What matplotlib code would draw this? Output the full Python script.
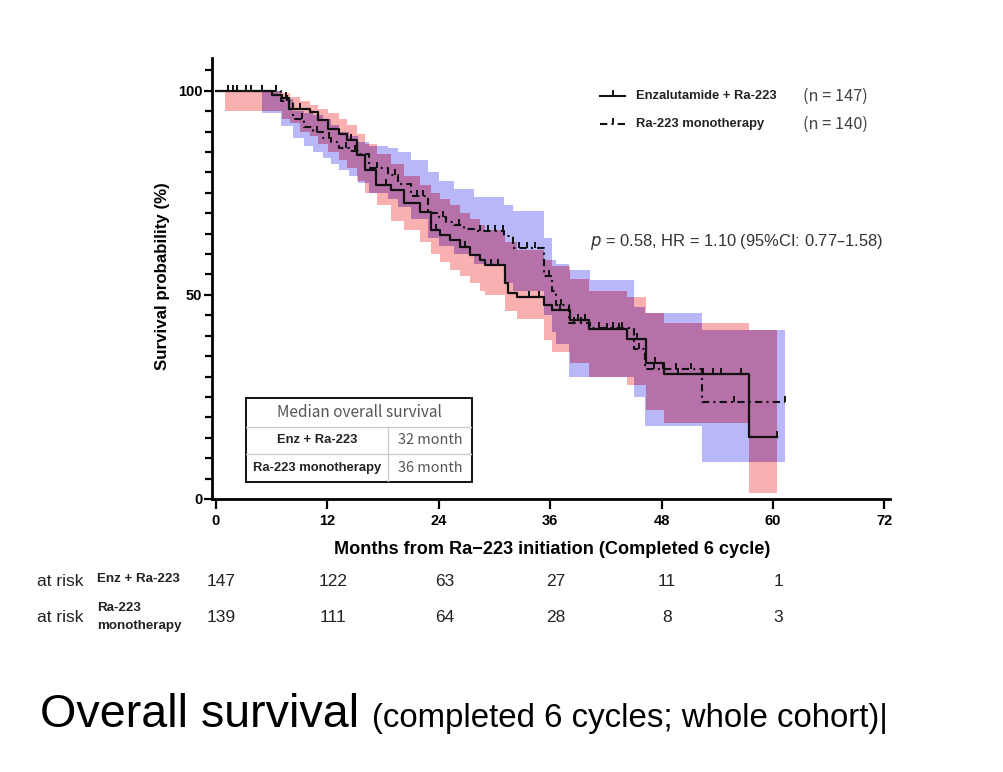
import numpy as np
import matplotlib.pyplot as plt
import matplotlib.transforms as mtransforms
from matplotlib.lines import Line2D
from matplotlib.path import Path
from matplotlib.patches import Rectangle

# ---- Kaplan-Meier curves (months, survival %) ----
enz_t = [0, 6.0, 7.1, 7.9, 10.1, 11.0, 12.1, 13.2, 14.1, 15.2, 16.1, 17.2, 18.9,
         20.2, 22.0, 23.2, 24.1, 25.2, 26.3, 27.4, 28.4, 29.0, 31.1, 31.4, 32.4,
         35.3, 36.2, 38.1, 40.2, 44.3, 46.3, 48.3, 57.4]
enz_s = [100, 98.9, 98.1, 95.6, 94.8, 92.8, 90.7, 89.5, 87.9, 84.2, 80.5, 77.0, 75.7,
         72.5, 70.4, 65.9, 64.7, 63.5, 61.8, 59.8, 58.6, 57.4, 52.9, 50.4, 49.4,
         47.5, 46.3, 43.9, 41.6, 39.2, 33.3, 30.5, 15.3]
enz_end = 60.4
enz_cens = [1.3, 2.3, 3.2, 5.0, 7.5, 9.0, 14.5, 18.3, 23.7, 26.8, 29.6, 30.4, 33.7,
            34.8, 37.1, 39.0, 39.7, 42.1, 43.4, 45.4, 47.3, 49.8, 52.5, 53.5, 54.4,
            56.5, 60.4]

mono_t = [0, 7.0, 8.3, 9.5, 10.5, 11.5, 12.4, 13.3, 14.3, 15.3, 16.5, 18.5, 19.6,
          21.0, 22.8, 24.0, 24.8, 25.6, 26.7, 27.8, 31.0, 32.0, 35.3, 36.2, 36.6,
          38.0, 40.3, 45.0, 46.2, 52.3]
mono_s = [100, 97.5, 93.0, 91.0, 90.0, 88.5, 87.5, 86.0, 85.3, 84.5, 81.0, 79.3, 77.2,
          74.3, 70.0, 69.0, 67.8, 67.0, 66.2, 65.6, 64.5, 61.5, 54.5, 51.0, 47.5,
          43.0, 42.0, 36.8, 31.8, 23.8]
mono_end = 61.3
mono_cens = [1.8, 3.8, 6.5, 7.6, 9.3, 10.9, 12.2, 14.0, 15.0, 17.3, 19.3, 21.6, 22.3,
             24.5, 26.2, 28.4, 29.3, 30.1, 30.9, 32.6, 33.5, 34.4, 35.9, 37.2, 38.6,
             39.3, 41.3, 42.8, 43.7, 45.6, 47.2, 48.2, 49.6, 51.2, 55.8, 61.3]

# ---- 95% confidence bands (start of each step, lower, upper) ----
enz_ci_t = [1.0, 5.0, 7.1, 8.0, 9.0, 10.1, 11.0, 12.1, 13.2, 14.1, 15.2, 16.1, 17.3,
            18.9, 20.2, 22.0, 23.2, 24.1, 25.2, 26.3, 27.4, 28.4, 29.0, 31.1, 32.4,
            35.3, 36.2, 38.1, 40.2, 44.3, 46.3, 48.3, 57.4]
enz_ci_lo = [95, 95, 93, 92, 90, 89, 87, 85, 83, 81, 78, 75, 72, 68, 66, 63, 60, 58,
             56, 54.5, 53, 51, 50, 46, 44, 39, 36, 33.3, 30, 28, 21.8, 18.6, 1.5]
enz_ci_hi = [100, 100, 99.5, 98.5, 97.5, 96.5, 95.5, 94.5, 93, 91.5, 89.5, 87, 84.5,
             82, 79, 77, 75, 73.5, 72, 70, 68.5, 67, 66, 63, 61, 58.5, 57, 54, 51,
             49.5, 45.6, 43, 41.4]
enz_ci_end = 60.4

mono_ci_t = [5.0, 7.0, 8.3, 9.5, 10.5, 11.5, 12.4, 13.3, 14.3, 15.3, 16.5, 18.5, 19.6,
             21.0, 22.8, 24.0, 25.6, 27.8, 31.0, 32.0, 35.3, 36.2, 36.6, 38.0, 40.3,
             45.0, 46.2, 52.3]
mono_ci_lo = [94.5, 91.3, 88.5, 86.5, 85, 83.5, 82, 80.5, 79, 77.5, 75, 73.5, 71.5,
              68.5, 64, 62, 60, 57.5, 53, 51, 45, 41, 38, 30, 30, 25, 18, 9]
mono_ci_hi = [100, 98, 95, 94.5, 94, 93, 91.5, 90, 89, 87.5, 86.5, 86, 85, 83, 80,
              78, 76, 74, 72, 70.5, 64, 58.6, 57.5, 56, 53.6, 47, 45.6, 41.4]
mono_ci_end = 61.3

# ---- number at risk ----
risk_t = [0, 12, 24, 36, 48, 60]
risk_enz = [147, 122, 63, 27, 11, 1]
risk_mono = [139, 111, 64, 28, 8, 3]

PINK = "#F8B0B0"
BLUE = "#B8B8F8"
PURPLE = "#B571A8"
INK = "#111111"
DASH = (0, (3.5, 2, 1, 2))

ARIAL = ["Liberation Sans", "DejaVu Sans"]
JP = ["Noto Sans CJK JP", "DejaVu Sans"]
plt.rcParams["font.family"] = ARIAL

W, H = 1004, 772


def fx(px):
    return px / W


def fy(py):
    return 1 - py / H


def step_values(ts, vals, end, grid):
    ts = np.asarray(ts, float)
    vals = np.asarray(vals, float)
    out = np.full(len(grid), np.nan)
    for i, g in enumerate(grid):
        if g < ts[0] or g >= end:
            continue
        out[i] = vals[np.searchsorted(ts, g, side="right") - 1]
    return out


def blocks(grid, lo, hi):
    # each interval [grid[k], grid[k+1]) becomes two points
    xs, l2, h2 = [], [], []
    for k in range(len(grid) - 1):
        ok = np.isfinite(lo[k]) and np.isfinite(hi[k]) and lo[k] < hi[k]
        xs += [grid[k], grid[k + 1]]
        l2 += [lo[k] if ok else np.nan] * 2
        h2 += [hi[k] if ok else np.nan] * 2
    return np.array(xs), np.array(l2), np.array(h2)


def km_at(ts, vals, t):
    return vals[np.searchsorted(ts, t, side="right") - 1]


fig = plt.figure(figsize=(W / 100, H / 100), dpi=100)
ax = fig.add_axes([fx(212), fy(499), fx(890) - fx(212), fy(58) - fy(499)])

# bands
grid = np.unique(np.concatenate([enz_ci_t, [enz_ci_end], mono_ci_t, [mono_ci_end]]))
e_lo = step_values(enz_ci_t, enz_ci_lo, enz_ci_end, grid)
e_hi = step_values(enz_ci_t, enz_ci_hi, enz_ci_end, grid)
m_lo = step_values(mono_ci_t, mono_ci_lo, mono_ci_end, grid)
m_hi = step_values(mono_ci_t, mono_ci_hi, mono_ci_end, grid)
o_lo = np.fmax(e_lo, m_lo)
o_hi = np.fmin(e_hi, m_hi)
o_lo[np.isnan(e_lo) | np.isnan(m_lo)] = np.nan

for lo, hi, col in [(e_lo, e_hi, PINK), (m_lo, m_hi, BLUE), (o_lo, o_hi, PURPLE)]:
    x2, l2, h2 = blocks(grid, lo, hi)
    ax.fill_between(x2, l2, h2, color=col, lw=0, zorder=1)

# KM lines
tick_marker = Path([(0, 0), (0, 1)], [Path.MOVETO, Path.LINETO])
ax.step(list(enz_t) + [enz_end], list(enz_s) + [enz_s[-1]], where="post",
        color=INK, lw=1.6, zorder=3)
ax.step(list(mono_t) + [mono_end], list(mono_s) + [mono_s[-1]], where="post",
        color=INK, lw=1.5, linestyle=DASH, zorder=3)
enz_cy = [km_at(np.array(enz_t), np.array(enz_s), c) for c in enz_cens]
mono_cy = [km_at(np.array(mono_t), np.array(mono_s), c) for c in mono_cens]
ax.plot(enz_cens, enz_cy, ls="none", marker=tick_marker, ms=9, mew=1.4,
        color=INK, zorder=4)
ax.plot(mono_cens, mono_cy, ls="none", marker=tick_marker, ms=9, mew=1.4,
        color=INK, zorder=4)

ax.set_xlim(-0.43, 72.6)
ax.set_ylim(0, 108)
ax.set_xticks(risk_t + [72])
ax.set_yticks([0, 50, 100])
ax.set_yticks(np.arange(0, 108, 5), minor=True)
for s in ["top", "right"]:
    ax.spines[s].set_visible(False)
for s in ["left", "bottom"]:
    ax.spines[s].set_linewidth(2)
ax.tick_params(axis="y", which="major", length=6, width=1.6, pad=1)
ax.tick_params(axis="y", which="minor", length=5, width=1.6)
ax.tick_params(axis="x", which="major", length=7, width=1.6, pad=4)
for lab in ax.get_xticklabels() + ax.get_yticklabels():
    lab.set_fontweight("bold")
    lab.set_fontsize(10.5)

fig.text(fx(163), fy(276), "Survival probability (%)", rotation=90, ha="center",
         va="center", fontsize=12.2, fontweight="bold")
fig.text(fx(552), fy(550), "Months from Ra\u2212223 initiation (Completed 6 cycle)",
         ha="center", va="center", fontsize=13.1, fontweight="bold")

# legend
for py, style in [(96, "-"), (124, DASH)]:
    fig.add_artist(Line2D([fx(600), fx(625)], [fy(py), fy(py)], color=INK, lw=1.5,
                          linestyle=style, transform=fig.transFigure))
    fig.add_artist(Line2D([fx(612.5)], [fy(py)], ls="none", marker=tick_marker, ms=9,
                          mew=1.4, color=INK, transform=fig.transFigure))
fig.text(fx(636), fy(96), "Enzalutamide + Ra-223", fontsize=9.4, fontweight="bold",
         color="#222222", va="center")
fig.text(fx(636), fy(124), "Ra-223 monotherapy", fontsize=9.4, fontweight="bold",
         color="#222222", va="center")
fig.text(fx(803), fy(96), "(n = 147)", fontsize=11.8, color="#444444", va="center",
         family=JP)
fig.text(fx(803), fy(124), "(n = 140)", fontsize=11.8, color="#444444", va="center",
         family=JP)

fig.text(fx(590), fy(242), "$p$ = 0.58, HR = 1.10 (95%CI: 0.77\u20131.58)",
         fontsize=11.9, color="#333333", va="center")

# median table
tab = fig.add_axes([fx(246), fy(482), fx(472) - fx(246), fy(398) - fy(482)])
tab.set_xlim(0, 1)
tab.set_ylim(0, 1)
tab.axis("off")
tab.add_patch(Rectangle((0, 0), 1, 1, facecolor="white", edgecolor="#111111",
                        lw=1.4, clip_on=False, zorder=2))
tab.plot([0, 1], [0.655, 0.655], color="#cccccc", lw=1, zorder=3)
tab.plot([0, 1], [0.333, 0.333], color="#cccccc", lw=1, zorder=3)
tab.plot([0.628, 0.628], [0, 0.655], color="#cccccc", lw=1, zorder=3)
tab.text(0.5, 0.83, "Median overall survival", ha="center", va="center",
         fontsize=11.1, color="#555555", family=JP, zorder=4)
tab.text(0.314, 0.495, "Enz + Ra-223", ha="center", va="center", fontsize=9.4,
         fontweight="bold", color="#222222", zorder=4)
tab.text(0.314, 0.165, "Ra-223 monotherapy", ha="center", va="center", fontsize=9.4,
         fontweight="bold", color="#222222", zorder=4)
tab.text(0.814, 0.495, "32 month", ha="center", va="center", fontsize=10.4,
         color="#555555", family=JP, zorder=4)
tab.text(0.814, 0.165, "36 month", ha="center", va="center", fontsize=10.4,
         color="#555555", family=JP, zorder=4)

# number at risk
trans = mtransforms.blended_transform_factory(ax.transData, fig.transFigure)
for py, vals in [(582, risk_enz), (617, risk_mono)]:
    fig.text(fx(37), fy(py), "at risk", fontsize=12.5, va="center", color="#222222")
    for t, v in zip(risk_t, vals):
        ax.text(t + 0.6, fy(py), str(v), transform=trans, ha="center", va="center",
                fontsize=12.5, color="#222222")
fig.text(fx(97), fy(579), "Enz + Ra-223", fontsize=9.6, fontweight="bold",
         va="center", color="#222222")
fig.text(fx(97), fy(617), "Ra-223\nmonotherapy", fontsize=9.6, fontweight="bold",
         va="center", color="#222222", linespacing=1.75)

# title
fig.text(fx(40), fy(727), "Overall survival", fontsize=33.6, va="baseline")
fig.text(fx(372), fy(727), "(completed 6 cycles; whole cohort)|", fontsize=23.8,
         va="baseline")

fig.savefig("out.png", dpi=100)
